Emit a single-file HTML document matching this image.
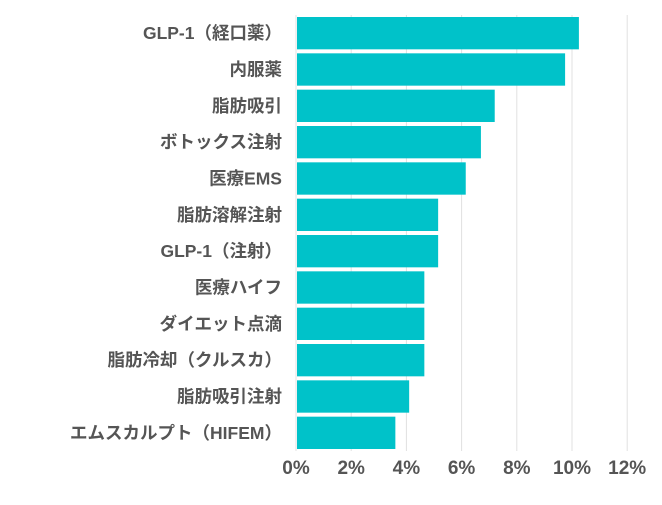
<!DOCTYPE html>
<html><head><meta charset="utf-8"><style>
html,body{margin:0;padding:0;background:#fff;}
svg text{font-family:"Liberation Sans","Noto Sans CJK JP",sans-serif;font-weight:bold;fill:#555;}
</style></head><body>
<svg id="chart" width="662" height="500" xmlns="http://www.w3.org/2000/svg"></svg>
<script>
const categories=["GLP-1（経口薬）","内服薬","脂肪吸引","ボトックス注射","医療EMS","脂肪溶解注射","GLP-1（注射）","医療ハイフ","ダイエット点滴","脂肪冷却（クルスカ）","脂肪吸引注射","エムスカルプト（HIFEM）"];
const values=[10.25,9.75,7.2,6.7,6.15,5.15,5.15,4.65,4.65,4.65,4.1,3.6];
const ticks=[0,2,4,6,8,10,12];
const tickLabels=["0%","2%","4%","6%","8%","10%","12%"];
const svgEl=document.getElementById('chart');
const NS="http://www.w3.org/2000/svg";
const x0=296,pxPer=27.6,plotTop=15,plotBottom=451;
const band=(plotBottom-plotTop)/categories.length;
function xs(v){return x0+v*pxPer;}
function mk(t,a){const e=document.createElementNS(NS,t);for(const k in a)e.setAttribute(k,a[k]);svgEl.appendChild(e);return e;}
ticks.forEach((t,i)=>{
  const g=mk('line',{x1:xs(t),x2:xs(t),y1:plotTop,y2:plotBottom,stroke:'#e0e0e0','stroke-width':1});
  
  
  const l=mk('text',{x:xs(t),y:474,'text-anchor':'middle','font-size':19});
  l.textContent=tickLabels[i];
  
  
});
categories.forEach((c,i)=>{
  const y=plotTop+i*band;
  const r=mk('rect',{x:xs(0)+1,y:y+2,width:xs(values[i])-xs(0)-1,height:band-4,fill:'#00c2c9'});
  
  
  const t=mk('text',{x:282,y:y+band/2+6,'text-anchor':'end','font-size':17.5});
  t.textContent=c;
  
  
});
</script>
</body></html>
